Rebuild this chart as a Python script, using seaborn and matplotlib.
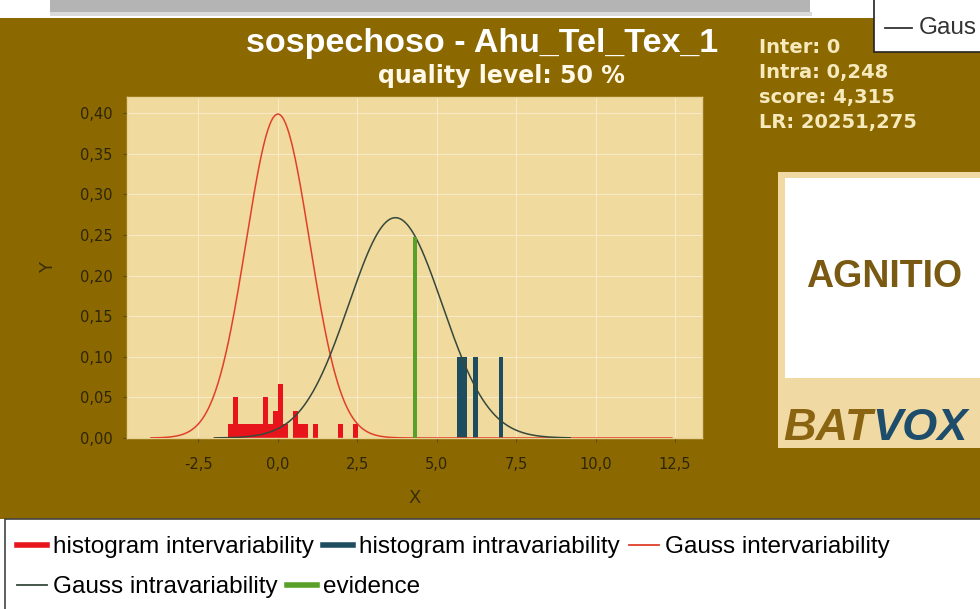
import numpy as np
import pandas as pd
import matplotlib
matplotlib.use('Agg')
import matplotlib.pyplot as plt
import seaborn as sns
from matplotlib.patches import Rectangle
from matplotlib.lines import Line2D
from matplotlib.ticker import FuncFormatter, MultipleLocator

# histogram intervariability (bin centres, heights)
inter_x = [-1.48, -1.32, -1.17, -1.01, -0.85, -0.70, -0.54, -0.38, -0.22,
           -0.07, 0.09, 0.25, 0.56, 0.72, 0.87, 1.19, 1.97, 2.44]
inter_h = [0.017, 0.050, 0.017, 0.017, 0.017, 0.017, 0.017, 0.050, 0.017,
           0.033, 0.066, 0.017, 0.033, 0.017, 0.017, 0.017, 0.017, 0.017]
# histogram intravariability
intra_x = [5.72, 5.88, 6.22, 7.03]
intra_h = [0.10, 0.10, 0.10, 0.10]
# gauss fits (mean, sd) and drawn range
inter_mu, inter_sd, inter_rng = 0.0, 1.0, (-4.0, 12.4)
intra_mu, intra_sd, intra_rng = 3.7, 1.47, (-2.0, 9.2)
# evidence
score = 4.315
score_h = 0.248

stats = ['Inter: 0', 'Intra: 0,248', 'score: 4,315', 'LR: 20251,275']
title = 'sospechoso - Ahu_Tel_Tex_1'
subtitle = 'quality level: 50 %'

W, H = 980, 609
BROWN = '#8C6900'
PLOTBG = '#F0DA9E'
RED = '#E8141C'
TEAL = '#1F4D60'
DARK = '#35483C'
GREEN = '#58A02A'


def fx(x):
    return x / W


def fy(y):
    return 1 - y / H


def rect(fig, x0, y0, x1, y1, **kw):
    r = Rectangle((fx(x0), fy(y1)), (x1 - x0) / W, (y1 - y0) / H,
                  transform=fig.transFigure, **kw)
    fig.add_artist(r)
    return r


fig = plt.figure(figsize=(9.8, 6.09), dpi=100, facecolor='white')

# window chrome / background
rect(fig, 50, 0, 810, 12, facecolor='#B4B4B4', edgecolor='none', zorder=-6)
rect(fig, 50, 12, 812, 16, facecolor='#DADADA', edgecolor='none', zorder=-6)
rect(fig, 0, 18, 980, 519, facecolor=BROWN, edgecolor='none', zorder=-5)
rect(fig, 874, -3, 990, 52, facecolor='white', edgecolor='#222222', lw=1.2, zorder=2)
fig.add_artist(Line2D([fx(885), fx(912)], [fy(28), fy(28)], color='#333333', lw=1.3,
                      transform=fig.transFigure, zorder=3))
fig.text(fx(919), fy(28), 'Gaus', color='#333333', fontsize=17.5,
         family='Liberation Sans', va='center', ha='left', zorder=3)

# legend box
rect(fig, 5, 519, 990, 615, facecolor='white', edgecolor='#444444', lw=1.2, zorder=1)

# titles
fig.text(fx(482), fy(52), title, color='white', fontsize=24.5, fontweight='bold',
         family='Liberation Sans', ha='center', va='baseline')
fig.text(fx(501), fy(83), subtitle, color='#FFF8E6', fontsize=17, fontweight='bold',
         family='DejaVu Sans', ha='center', va='baseline')
for i, s in enumerate(stats):
    fig.text(fx(759), fy(53 + 25 * i), s, color='#F6E9BC', fontsize=14,
             fontweight='bold', family='DejaVu Sans', ha='left', va='baseline')

# logo
rect(fig, 778, 172, 990, 448, facecolor='#F0D9A2', edgecolor='none', zorder=1)
rect(fig, 785, 178, 990, 378, facecolor='white', edgecolor='none', zorder=1)
fig.text(fx(884), fy(277), 'AGNITIO', color='#7A5A12', fontsize=27,
         fontweight='bold', family='Liberation Sans', ha='center', va='center', zorder=2)
bat = fig.text(fx(783), fy(440), 'BAT', color='#8A6410', fontsize=32.5,
               fontweight='bold', style='italic', family='Liberation Sans',
               ha='left', va='baseline', zorder=2)

# plot
ax = fig.add_axes([fx(127), fy(438), 575 / W, 341 / H])
ax.set_facecolor(PLOTBG)

ax.bar(inter_x, inter_h, width=0.157, color=RED, edgecolor='none', zorder=2)
ax.bar(intra_x, intra_h, width=0.14, color=TEAL, edgecolor='none', zorder=2)

g1 = np.linspace(inter_rng[0], inter_rng[1], 600)
g2 = np.linspace(intra_rng[0], intra_rng[1], 600)
df1 = pd.DataFrame({'x': g1, 'y': np.exp(-0.5 * ((g1 - inter_mu) / inter_sd) ** 2) / (inter_sd * np.sqrt(2 * np.pi))})
df2 = pd.DataFrame({'x': g2, 'y': np.exp(-0.5 * ((g2 - intra_mu) / intra_sd) ** 2) / (intra_sd * np.sqrt(2 * np.pi))})
sns.lineplot(data=df1, x='x', y='y', ax=ax, color='#E0402A', lw=1.1, zorder=3)
sns.lineplot(data=df2, x='x', y='y', ax=ax, color=DARK, lw=1.1, zorder=3)
ax.bar([score], [score_h], width=0.12, color=GREEN, edgecolor='none', zorder=4)

ax.set_xlim(-4.75, 13.35)
ax.set_ylim(0, 0.42)
ax.xaxis.set_major_locator(MultipleLocator(2.5))
ax.yaxis.set_major_locator(MultipleLocator(0.05))
ax.xaxis.set_major_formatter(FuncFormatter(lambda v, p: f'{v:.1f}'.replace('.', ',')))
ax.yaxis.set_major_formatter(FuncFormatter(lambda v, p: f'{v:.2f}'.replace('.', ',')))
ax.grid(color='#F7EAC6', lw=0.8, zorder=0)
ax.set_axisbelow(True)
for sp in ax.spines.values():
    sp.set_color('#E6D094')
    sp.set_linewidth(1)
ax.tick_params(axis='both', colors='#5A4A10', length=3, labelsize=10.5, labelcolor='#2D2508')
ax.tick_params(axis='x', pad=11)
ax.tick_params(axis='y', pad=7.5)
ax.set_xlabel('X', color='#3A2E08', fontsize=13, labelpad=12)
ax.set_ylabel('Y', color='#3A2E08', fontsize=13, labelpad=16)

# legend rows
lf = {'family': 'Liberation Sans', 'size': 17.5}
row1 = [Line2D([], [], color=RED, lw=4), Line2D([], [], color=TEAL, lw=4),
        Line2D([], [], color='#E0402A', lw=1.3)]
row2 = [Line2D([], [], color=DARK, lw=1.3), Line2D([], [], color=GREEN, lw=4)]
lab1 = ['histogram intervariability', 'histogram intravariability', 'Gauss intervariability']
lab2 = ['Gauss intravariability', 'evidence']
for hs, ls, yy in [(row1, lab1, 547), (row2, lab2, 587)]:
    leg = fig.legend(hs, ls, loc='center left', bbox_to_anchor=(fx(17), fy(yy)),
                     ncol=len(hs), frameon=False, prop=lf, handlelength=1.25,
                     handletextpad=0.25, columnspacing=0.35, borderaxespad=0, borderpad=0)
    leg.set_zorder(3)

# VOX after BAT
fig.canvas.draw()
bb = bat.get_window_extent()
fig.text(bb.x1 / W, fy(440), 'VOX', color='#1E4D6B', fontsize=32.5,
         fontweight='bold', style='italic', family='Liberation Sans',
         ha='left', va='baseline', zorder=2)

fig.savefig('out.png', dpi=100, facecolor='white')
